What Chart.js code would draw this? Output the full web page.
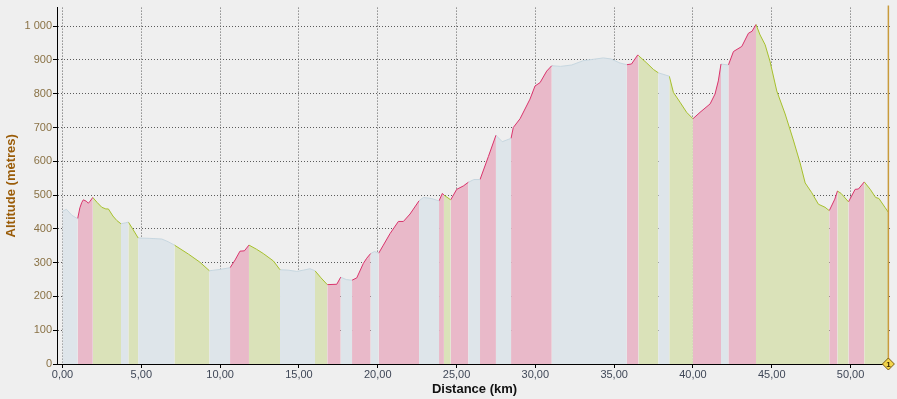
<!DOCTYPE html>
<html>
<head>
<meta charset="utf-8">
<script src="https://cdn.jsdelivr.net/npm/chart.js@4/dist/chart.umd.min.js"></script>
<style>
  html, body { margin: 0; padding: 0; background: #efefef; }
  canvas { display: block; }
</style>
</head>
<body>
<canvas id="canvas" width="897" height="399"></canvas>
<script>
// profile: distance (km) / altitude (m)
const distanceKm = [
  0, 0.25, 0.6, 0.96, 1.1, 1.22, 1.32, 1.5, 1.64, 1.75, 1.92, 2.2, 2.49, 2.75, 2.91, 3.2, 3.44, 3.71,
  4.0, 4.18, 4.45, 4.8, 5.5, 6.3, 6.7, 7.1, 8.0, 8.7, 9.32, 10.0, 10.63, 10.95, 11.26, 11.54, 11.83,
  12.3, 12.74, 13.38, 13.8, 14.3, 14.86, 15.3, 15.7, 16.02, 16.4, 16.8, 17.4, 17.65, 18.0, 18.37,
  18.67, 19.09, 19.3, 19.55, 19.8, 20.06, 20.36, 20.78, 21.31, 21.63, 22.05, 22.62, 22.9, 23.4, 23.89,
  24.1, 24.2, 24.63, 25.01, 25.43, 25.75, 26.1, 26.49, 27.02, 27.5, 27.9, 28.46, 28.6, 29.03, 29.66,
  29.98, 30.3, 30.72, 31.04, 31.6, 32.3, 33.05, 34.31, 34.8, 35.37, 35.8, 36.1, 36.5, 36.54, 37.07,
  37.49, 37.8, 38.5, 38.76, 39.18, 39.6, 40.0, 40.45, 41.09, 41.4, 41.61, 41.78, 42.25, 42.57, 43.1,
  43.52, 43.75, 44.0, 44.26, 44.58, 44.89, 45.32, 45.85, 46.37, 46.8, 47.12, 47.54, 47.96, 48.38,
  48.65, 49.0, 49.17, 49.4, 49.87, 50.29, 50.5, 50.87, 51.25, 51.59, 51.8, 52.18, 52.4
];
const altitudeM = [
  452, 458, 440, 430, 462, 478, 486, 482, 476, 482, 493, 478, 464, 459, 459, 438, 425, 415,
  418, 420, 400, 373, 372, 370, 362, 352, 325, 302, 276, 280, 285, 308, 334, 335, 352,
  340, 327, 305, 279, 278, 274, 278, 282, 276, 255, 235, 236, 257, 250, 248,
  255, 298, 313, 327, 333, 328, 352, 386, 422, 422, 444, 483, 493, 490, 483,
  505, 500, 486, 517, 527, 538, 546, 546, 614, 677, 658, 668, 700, 726, 784,
  823, 833, 867, 883, 881, 885, 898, 906, 903, 891, 886, 888, 915, 913, 891,
  872, 862, 852, 804, 775, 745, 726, 745, 770, 799, 838, 888, 885, 925, 940,
  979, 985, 1005, 974, 945, 896, 808, 740, 663, 595, 536, 507, 473, 464,
  454, 488, 512, 505, 480, 517, 518, 539, 517, 493, 490, 464, 449
];

// slope bands: start of each band and its kind
const bandStartKm = [
  0, 0.96, 1.92, 3.71, 4.18, 4.8, 7.1, 9.32, 10.63, 11.83, 13.8, 16.02, 16.8, 17.65, 18.37, 19.55,
  20.06, 22.62, 23.89, 24.2, 24.63, 25.75, 26.49, 27.5, 28.46, 31.04, 35.8, 36.54, 37.8, 38.5,
  40.0, 41.78, 42.25, 44.0, 48.65, 49.17, 49.87, 50.87
];
const bandType = [
  'flat', 'up', 'down', 'flat', 'down', 'flat', 'down', 'flat', 'up', 'down', 'flat', 'down', 'up', 'flat', 'up', 'flat',
  'up', 'flat', 'up', 'down', 'up', 'flat', 'up', 'flat', 'up', 'flat', 'up', 'down', 'flat', 'down',
  'up', 'flat', 'up', 'down', 'up', 'down', 'up', 'down'
];
const trackEndKm = 52.4;

const xTicks = [0, 5, 10, 15, 20, 25, 30, 35, 40, 45, 50];
const yTicks = [0, 100, 200, 300, 400, 500, 600, 700, 800, 900, 1000];

const fillColor = { up: '#e9b9c9', down: '#dae2b9', flat: '#dee5ea' };
const lineColor = { up: '#d8336b', down: '#a6bf2c', flat: '#c6d6df' };

const bandEnd = bandStartKm.slice(1).concat([trackEndKm]);
const datasets = bandStartKm.map((start, i) => {
  const pts = [];
  distanceKm.forEach((d, j) => {
    if (d >= start - 1e-9 && d <= bandEnd[i] + 1e-9) pts.push({ x: d, y: altitudeM[j] });
  });
  return {
    data: pts,
    borderColor: lineColor[bandType[i]],
    backgroundColor: fillColor[bandType[i]],
    borderWidth: 1,
    fill: 'origin',
    pointRadius: 0,
    tension: 0
  };
});

const markerLine = {
  id: 'markerLine',
  afterDraw(chart) {
    const ctx = chart.ctx;
    const x = chart.scales.x.getPixelForValue(trackEndKm);
    const top = chart.chartArea.top - 2;
    const bottom = chart.scales.y.getPixelForValue(0);
    ctx.save();
    ctx.strokeStyle = '#c89b3c';
    ctx.lineWidth = 1.5;
    ctx.beginPath();
    ctx.moveTo(x, top);
    ctx.lineTo(x, bottom);
    ctx.stroke();
    ctx.beginPath();
    ctx.moveTo(x, bottom - 6);
    ctx.lineTo(x + 6, bottom);
    ctx.lineTo(x, bottom + 6);
    ctx.lineTo(x - 6, bottom);
    ctx.closePath();
    ctx.fillStyle = '#f3d64a';
    ctx.fill();
    ctx.strokeStyle = '#7a5a10';
    ctx.lineWidth = 1;
    ctx.stroke();
    ctx.fillStyle = '#3a2a00';
    ctx.font = 'bold 8px "Liberation Sans"';
    ctx.textAlign = 'center';
    ctx.textBaseline = 'middle';
    ctx.fillText('1', x, bottom + 0.5);
    ctx.restore();
  }
};

new Chart(document.getElementById('canvas').getContext('2d'), {
  type: 'line',
  data: { datasets: datasets },
  plugins: [markerLine],
  options: {
    responsive: false,
    animation: false,
    layout: { padding: { top: 2, right: 5, left: 0, bottom: 0 } },
    plugins: { legend: { display: false }, tooltip: { enabled: false } },
    scales: {
      x: {
        type: 'linear',
        min: -0.35,
        max: 52.63,
        z: 1,
        afterBuildTicks: (scale) => { scale.ticks = xTicks.map(v => ({ value: v })); },
        afterFit: (scale) => { scale.height = 35; },
        ticks: {
          autoSkip: false,
          maxRotation: 0,
          padding: 0,
          color: '#3f4757',
          font: { family: '"Liberation Sans"', size: 11 },
          callback: (v) => Number(v).toFixed(2).replace('.', ',')
        },
        grid: { color: '#5a5a5a', tickColor: '#000', tickLength: 4, lineWidth: 1 },
        border: { color: '#000', width: 1, dash: [1, 2] },
        title: {
          display: true,
          text: 'Distance (km)',
          color: '#111',
          font: { family: '"Liberation Sans"', size: 13, weight: 'bold' },
          padding: { top: 0, bottom: 2 }
        }
      },
      y: {
        type: 'linear',
        min: 0,
        max: 1055,
        z: 1,
        afterBuildTicks: (scale) => { scale.ticks = yTicks.map(v => ({ value: v })); },
        afterFit: (scale) => { scale.width = 57; },
        ticks: {
          padding: 1,
          color: '#8a7245',
          font: { family: '"Liberation Sans"', size: 11 },
          callback: (v) => String(v).replace(/\B(?=(\d{3})+(?!\d))/g, ' ')
        },
        grid: { color: '#5a5a5a', tickColor: '#000', tickLength: 4, lineWidth: 1 },
        border: { color: '#000', width: 1, dash: [1, 2] },
        title: {
          display: true,
          text: 'Altitude (mètres)',
          color: '#9a5c08',
          font: { family: '"Liberation Sans"', size: 13, weight: 'bold' },
          padding: { top: 4, bottom: 0 }
        }
      }
    }
  }
});
</script>
</body>
</html>
